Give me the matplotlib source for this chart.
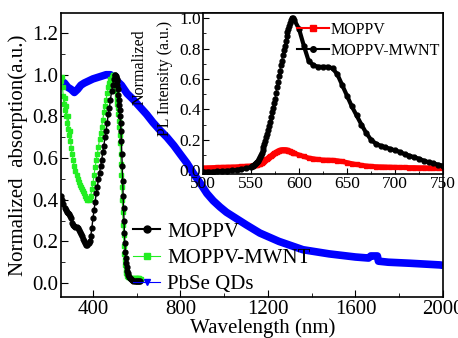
import numpy as np
import matplotlib
matplotlib.use('Agg')
import matplotlib.pyplot as plt
from matplotlib.lines import Line2D
from matplotlib.ticker import MultipleLocator

plt.rcParams['font.family'] = ['Liberation Serif', 'DejaVu Serif']

# ---- main panel: absorption ----
mop_wl = np.concatenate([np.arange(255, 501, 5), np.arange(502, 561, 2), np.arange(565, 616, 5)])
mop_abs = [0.42, 0.40, 0.38, 0.36, 0.35, 0.34, 0.335, 0.33, 0.32, 0.31,
           0.29, 0.28, 0.275, 0.27, 0.27, 0.265, 0.255, 0.245, 0.235, 0.225,
           0.21, 0.20, 0.19, 0.185, 0.185, 0.19, 0.20, 0.225, 0.265, 0.31,
           0.35, 0.39, 0.43, 0.46, 0.50, 0.53, 0.56, 0.59, 0.63, 0.66,
           0.70, 0.73, 0.77, 0.81, 0.84, 0.88, 0.92, 0.95, 0.98, 1.0,
           1.0, 0.995, 0.99, 0.98, 0.97, 0.95, 0.93, 0.905, 0.88, 0.855,
           0.83, 0.80, 0.77, 0.73, 0.68, 0.62, 0.56, 0.49, 0.42, 0.36,
           0.30, 0.24, 0.19, 0.15, 0.12, 0.095, 0.075, 0.06, 0.05, 0.04,
           0.03, 0.022, 0.018, 0.015, 0.012, 0.01, 0.01, 0.01, 0.008, 0.008, 0.008]

mwnt_wl = np.concatenate([np.arange(255, 301, 3), np.arange(305, 491, 5),
                          np.arange(492, 561, 2), np.arange(565, 621, 5)])
mwnt_abs = [0.97, 0.99, 0.94, 0.90, 0.86, 0.89, 0.83, 0.80, 0.85, 0.77, 0.74, 0.80, 0.71, 0.68, 0.73, 0.65,
            0.62, 0.59, 0.56, 0.54, 0.52, 0.50, 0.485, 0.47, 0.46, 0.45,
            0.44, 0.43, 0.42, 0.41, 0.40, 0.40, 0.405, 0.42, 0.45, 0.48,
            0.52, 0.555, 0.59, 0.62, 0.655, 0.69, 0.72, 0.75, 0.785, 0.82,
            0.85, 0.88, 0.91, 0.94, 0.96, 0.98, 0.99, 1.0,
            1.0, 0.995, 0.99, 0.98, 0.97, 0.955, 0.94, 0.92, 0.90, 0.88,
            0.86, 0.84, 0.81, 0.78, 0.75, 0.71, 0.67, 0.62, 0.57, 0.52,
            0.46, 0.40, 0.34, 0.28, 0.23, 0.18, 0.14, 0.11, 0.085, 0.065,
            0.05, 0.042, 0.036, 0.032, 0.03,
            0.028, 0.026, 0.025, 0.025, 0.024, 0.024, 0.023, 0.023, 0.022, 0.022, 0.021, 0.021]

pbse_wl = [255, 270, 285, 300, 315, 330, 345, 360, 380, 400, 430, 460, 480, 500, 530,
           556, 585, 615, 645, 675, 705, 738, 770, 798, 830, 857, 890, 921, 950, 981,
           1010, 1040, 1100, 1163, 1250, 1360, 1480, 1600, 1660, 1670, 1700, 1705,
           1750, 1850, 1985, 2000]
pbse_abs = [0.97, 0.96, 0.94, 0.93, 0.915, 0.93, 0.95, 0.96, 0.97, 0.98, 0.99, 1.0, 1.0, 0.98, 0.95,
            0.91, 0.88, 0.845, 0.81, 0.77, 0.735, 0.70, 0.66, 0.62, 0.575, 0.53, 0.48, 0.43, 0.395, 0.365,
            0.34, 0.32, 0.28, 0.24, 0.20, 0.16, 0.14, 0.125, 0.12, 0.13, 0.13, 0.105,
            0.10, 0.095, 0.087, 0.085]

# ---- inset: PL ----
pl_wl = np.concatenate([np.arange(500, 551, 5), np.arange(551, 596, 1), np.arange(600, 751, 5)])
pl_mwnt = [-0.01, -0.01, -0.01, -0.008, -0.006, -0.004, -0.002, 0.002, 0.006, 0.012, 0.02,
           0.027, 0.03, 0.035, 0.04, 0.046, 0.053, 0.062, 0.072, 0.085, 0.10,
           0.115, 0.13, 0.15, 0.17, 0.19, 0.215, 0.24, 0.265, 0.29, 0.32,
           0.35, 0.38, 0.41, 0.44, 0.47, 0.51, 0.55, 0.58, 0.62, 0.65,
           0.69, 0.72, 0.76, 0.79, 0.82, 0.85, 0.88, 0.91, 0.93, 0.95,
           0.97, 0.99, 1.0, 1.0, 0.99,
           0.93, 0.82, 0.72, 0.69, 0.68, 0.68, 0.68, 0.67, 0.63, 0.56,
           0.49, 0.42, 0.36, 0.30, 0.245, 0.20, 0.175, 0.16, 0.15, 0.14,
           0.13, 0.12, 0.105, 0.095, 0.085, 0.075, 0.062, 0.052, 0.044, 0.036, 0.03]
pl_mop = [0.015, 0.016, 0.017, 0.018, 0.019, 0.02, 0.021, 0.022, 0.024, 0.026, 0.028,
          0.029, 0.03, 0.031, 0.032, 0.034, 0.036, 0.038, 0.04, 0.043, 0.046,
          0.05, 0.054, 0.058, 0.062, 0.066, 0.07, 0.075, 0.08, 0.085, 0.09,
          0.095, 0.10, 0.105, 0.11, 0.114, 0.118, 0.122, 0.126, 0.129, 0.131,
          0.133, 0.134, 0.135, 0.135, 0.135, 0.134, 0.133, 0.131, 0.129, 0.127,
          0.124, 0.121, 0.118, 0.115, 0.112,
          0.10, 0.09, 0.08, 0.075, 0.07, 0.067, 0.066, 0.065, 0.062, 0.057,
          0.05, 0.043, 0.037, 0.032, 0.028, 0.025, 0.023, 0.022, 0.021, 0.02,
          0.019, 0.018, 0.018, 0.017, 0.017, 0.016, 0.016, 0.015, 0.015, 0.015, 0.015]

green = '#22ee22'

fig = plt.figure(figsize=(4.58, 3.38), dpi=100)
ax = fig.add_axes([0.1332, 0.1213, 0.834, 0.840])

ax.plot(pbse_wl, pbse_abs, color='blue', lw=5.5, solid_capstyle='butt', zorder=1)
ax.plot(mwnt_wl, mwnt_abs, '-s', color=green, lw=0.8, ms=3.5, mec=green, zorder=2)
ax.plot(mop_wl, mop_abs, '-o', color='black', lw=1, ms=3.5, zorder=3)

ax.set_xlim(254, 2000)
ax.set_ylim(-0.067, 1.296)
ax.xaxis.set_major_locator(MultipleLocator(400))
ax.xaxis.set_minor_locator(MultipleLocator(200))
ax.yaxis.set_major_locator(MultipleLocator(0.2))
ax.yaxis.set_minor_locator(MultipleLocator(0.1))
ax.tick_params(which='both', direction='in', labelsize=15, pad=2)
ax.tick_params(which='major', length=5)
ax.tick_params(which='minor', length=3)
ax.set_yticks([0.0, 0.2, 0.4, 0.6, 0.8, 1.0, 1.2])
ax.set_yticklabels(['0.0', '0.2', '0.4', '0.6', '0.8', '1.0', '1.2'])
for s in ax.spines.values():
    s.set_linewidth(1.2)

fig.text(18/458, 1-155/338, 'Normalized  absorption(a.u.)', rotation=90,
         ha='center', va='center', fontsize=15)
fig.text(263/458, 1-328/338, 'Wavelength (nm)', ha='center', va='center', fontsize=15)

h_main = [Line2D([], [], color='black', marker='o', lw=1.5, ms=5),
          Line2D([], [], color=green, marker='s', lw=0.8, ms=5),
          Line2D([], [], color='blue', marker='v', lw=0.8, ms=5)]
ax.legend(h_main, ['MOPPV', 'MOPPV-MWNT', 'PbSe QDs'], loc='upper left',
          bbox_to_anchor=(133/458, 1-222/338), bbox_transform=fig.transFigure,
          frameon=False, fontsize=15, handlelength=1.3, handletextpad=0.35,
          borderpad=0, borderaxespad=0, labelspacing=0.32)

# inset
ax2 = fig.add_axes([0.4432, 0.485, 0.524, 0.476])
ax2.plot(pl_wl, pl_mop, '-s', color='red', lw=3.5, ms=2.5, zorder=2)
ax2.plot(pl_wl, pl_mwnt, '-o', color='black', lw=0.8, ms=3.5, zorder=3)
# the dense tail reads as a solid thick line
tail = pl_wl >= 593
ax2.plot(pl_wl[tail], np.array(pl_mwnt)[tail], '-', color='black', lw=3, zorder=3)
flat = pl_wl <= 552
ax2.plot(pl_wl[flat], np.array(pl_mwnt)[flat], '-', color='black', lw=3, zorder=3)
ax2.set_xlim(500, 750)
ax2.set_ylim(-0.026, 1.033)
ax2.xaxis.set_major_locator(MultipleLocator(50))
ax2.xaxis.set_minor_locator(MultipleLocator(25))
ax2.yaxis.set_major_locator(MultipleLocator(0.2))
ax2.yaxis.set_minor_locator(MultipleLocator(0.1))
ax2.set_yticks([0.0, 0.2, 0.4, 0.6, 0.8, 1.0])
ax2.set_yticklabels(['0.0', '0.2', '0.4', '0.6', '0.8', '1.0'])
ax2.tick_params(which='both', direction='in', labelsize=12.5, pad=1.5)
ax2.tick_params(which='major', length=4)
ax2.tick_params(which='minor', length=2)
for s in ax2.spines.values():
    s.set_linewidth(1.2)

fig.text(140/458, 1-67/338, 'Normalized', rotation=90, ha='center', va='center', fontsize=11.5)
fig.text(165/458, 1-78/338, 'PL Intensity (a.u.)', rotation=90, ha='center', va='center', fontsize=11.5)

h_in = [Line2D([], [], color='red', marker='s', lw=1.5, ms=4),
        Line2D([], [], color='black', marker='o', lw=1.5, ms=4)]
ax2.legend(h_in, ['MOPPV', 'MOPPV-MWNT'], loc='upper left',
           bbox_to_anchor=(297/458, 1-22/338), bbox_transform=fig.transFigure,
           frameon=False, fontsize=11.5, handlelength=2.0, handletextpad=0.1,
           borderpad=0, borderaxespad=0, labelspacing=0.3)

fig.savefig('out.png', dpi=100)
